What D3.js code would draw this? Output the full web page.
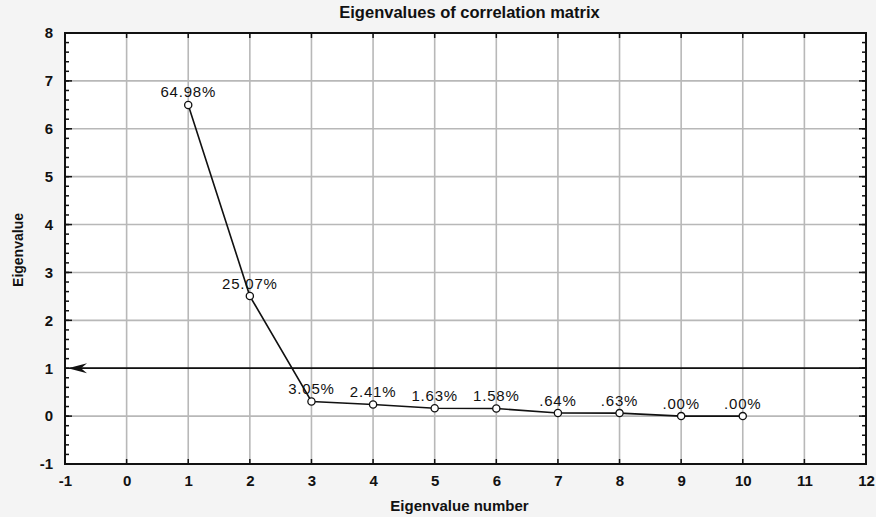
<!DOCTYPE html>
<html>
<head>
<meta charset="utf-8">
<script src="https://cdn.jsdelivr.net/npm/d3@7"></script>
<style>
  html, body { margin: 0; padding: 0; background: #f4f4f4; }
  svg { display: block; }
  text { font-family: "Liberation Sans", Arial, sans-serif; fill: #111; }
</style>
</head>
<body>
<svg id="chart" width="876" height="517"></svg>
<script>
// Scree plot: eigenvalues of the correlation matrix (10 variables)
const eigenNumbers = [1, 2, 3, 4, 5, 6, 7, 8, 9, 10];
const eigenValues  = [6.498, 2.507, 0.305, 0.241, 0.163, 0.158, 0.064, 0.063, 0.000, 0.000];
const pctLabels    = ["64.98%", "25.07%", "3.05%", "2.41%", "1.63%", "1.58%", ".64%", ".63%", ".00%", ".00%"];
const xTicks = [-1, 0, 1, 2, 3, 4, 5, 6, 7, 8, 9, 10, 11, 12];
const yTicks = [-1, 0, 1, 2, 3, 4, 5, 6, 7, 8];
const kaiserLevel = 1;

const svg = d3.select("#chart");
const W = 876, H = 517;
const m = { left: 65, right: 10, top: 33, bottom: 53 };

const x = d3.scaleLinear().domain([-1, 12]).range([m.left, W - m.right]);
const y = d3.scaleLinear().domain([-1, 8]).range([H - m.bottom, m.top]);

// plot area
svg.append("rect")
  .attr("x", x(-1)).attr("y", y(8))
  .attr("width", x(12) - x(-1)).attr("height", y(-1) - y(8))
  .attr("fill", "#fff");

// grid
const grid = svg.append("g").attr("stroke", "#b8b8b8").attr("stroke-width", 1.6);
grid.selectAll("line.v").data(xTicks.slice(1, -1)).join("line")
  .attr("x1", d => x(d)).attr("x2", d => x(d))
  .attr("y1", y(8)).attr("y2", y(-1));
grid.selectAll("line.h").data(yTicks.slice(1, -1)).join("line")
  .attr("x1", x(-1)).attr("x2", x(12))
  .attr("y1", d => y(d)).attr("y2", d => y(d));

// axes
const tickFont = "'DejaVu Sans', Verdana, sans-serif";
const axL = svg.append("g").attr("transform", `translate(${x(-1)},0)`)
  .call(d3.axisLeft(y).tickValues(yTicks).tickFormat(d => String(d)).tickSize(0).tickPadding(12));
const axB = svg.append("g").attr("transform", `translate(0,${y(-1)})`)
  .call(d3.axisBottom(x).tickValues(xTicks).tickFormat(d => String(d)).tickSize(0).tickPadding(11));
[axL, axB].forEach(a => {
  a.select(".domain").remove();
  a.selectAll("text").attr("font-size", 15).attr("font-weight", "bold")
    .attr("fill", "#1a1a1a").attr("font-family", tickFont);
});

// frame
svg.append("rect")
  .attr("x", x(-1)).attr("y", y(8))
  .attr("width", x(12) - x(-1)).attr("height", y(-1) - y(8))
  .attr("fill", "none").attr("stroke", "#111").attr("stroke-width", 2);

// inward tick marks
const ticks = svg.append("g").attr("stroke", "#111").attr("stroke-width", 1.5);
const minorY = d3.range(-1, 8.001, 0.2);
ticks.selectAll("line.ml").data(minorY).join("line")
  .attr("x1", x(-1)).attr("x2", x(-1) + 4)
  .attr("y1", d => y(d)).attr("y2", d => y(d));
ticks.selectAll("line.mr").data(minorY).join("line")
  .attr("x1", x(12)).attr("x2", x(12) - 4)
  .attr("y1", d => y(d)).attr("y2", d => y(d));
ticks.selectAll("line.jl").data(yTicks).join("line")
  .attr("x1", x(-1)).attr("x2", x(-1) + 7)
  .attr("y1", d => y(d)).attr("y2", d => y(d));
ticks.selectAll("line.jr").data(yTicks).join("line")
  .attr("x1", x(12)).attr("x2", x(12) - 7)
  .attr("y1", d => y(d)).attr("y2", d => y(d));
ticks.selectAll("line.jt").data(xTicks).join("line")
  .attr("x1", d => x(d)).attr("x2", d => x(d))
  .attr("y1", y(8)).attr("y2", y(8) + 5);
ticks.selectAll("line.jb").data(xTicks).join("line")
  .attr("x1", d => x(d)).attr("x2", d => x(d))
  .attr("y1", y(-1)).attr("y2", y(-1) - 5);

// eigenvalue = 1 reference line, with a left-pointing arrowhead
const ky = y(kaiserLevel);
const tipX = x(-1) + 3;
svg.append("line")
  .attr("x1", x(12)).attr("x2", tipX + 6)
  .attr("y1", ky).attr("y2", ky)
  .attr("stroke", "#111").attr("stroke-width", 1.8);
svg.append("path")
  .attr("d", `M${tipX},${ky} L${tipX + 19},${ky - 5} L${tipX + 13},${ky} L${tipX + 19},${ky + 5} Z`)
  .attr("fill", "#111");

// scree line and points
const pts = eigenNumbers.map((n, i) => ({ n, v: eigenValues[i], label: pctLabels[i] }));
svg.append("path").datum(pts)
  .attr("fill", "none").attr("stroke", "#111").attr("stroke-width", 1.6)
  .attr("d", d3.line().x(d => x(d.n)).y(d => y(d.v)));
svg.selectAll("circle.pt").data(pts).join("circle")
  .attr("cx", d => x(d.n)).attr("cy", d => y(d.v)).attr("r", 3.6)
  .attr("fill", "#fff").attr("stroke", "#111").attr("stroke-width", 1.3);
svg.selectAll("text.pct").data(pts).join("text")
  .attr("x", d => x(d.n)).attr("y", d => y(d.v) - 7.5)
  .attr("text-anchor", "middle").attr("font-size", 15)
  .attr("letter-spacing", 0.8)
  .attr("font-family", tickFont)
  .text(d => d.label);

// titles
svg.append("text").attr("x", (x(-1) + x(12)) / 2 + 4).attr("y", 18)
  .attr("text-anchor", "middle").attr("font-size", 16.5).attr("font-weight", "bold")
  .text("Eigenvalues of correlation matrix");
svg.append("text").attr("x", (x(-1) + x(12)) / 2 - 6).attr("y", 511)
  .attr("text-anchor", "middle").attr("font-size", 15).attr("font-weight", "bold")
  .text("Eigenvalue number");
svg.append("text")
  .attr("transform", `translate(23,250) rotate(-90)`)
  .attr("text-anchor", "middle").attr("font-size", 14).attr("font-weight", "bold")
  .text("Eigenvalue");
</script>
</body>
</html>
